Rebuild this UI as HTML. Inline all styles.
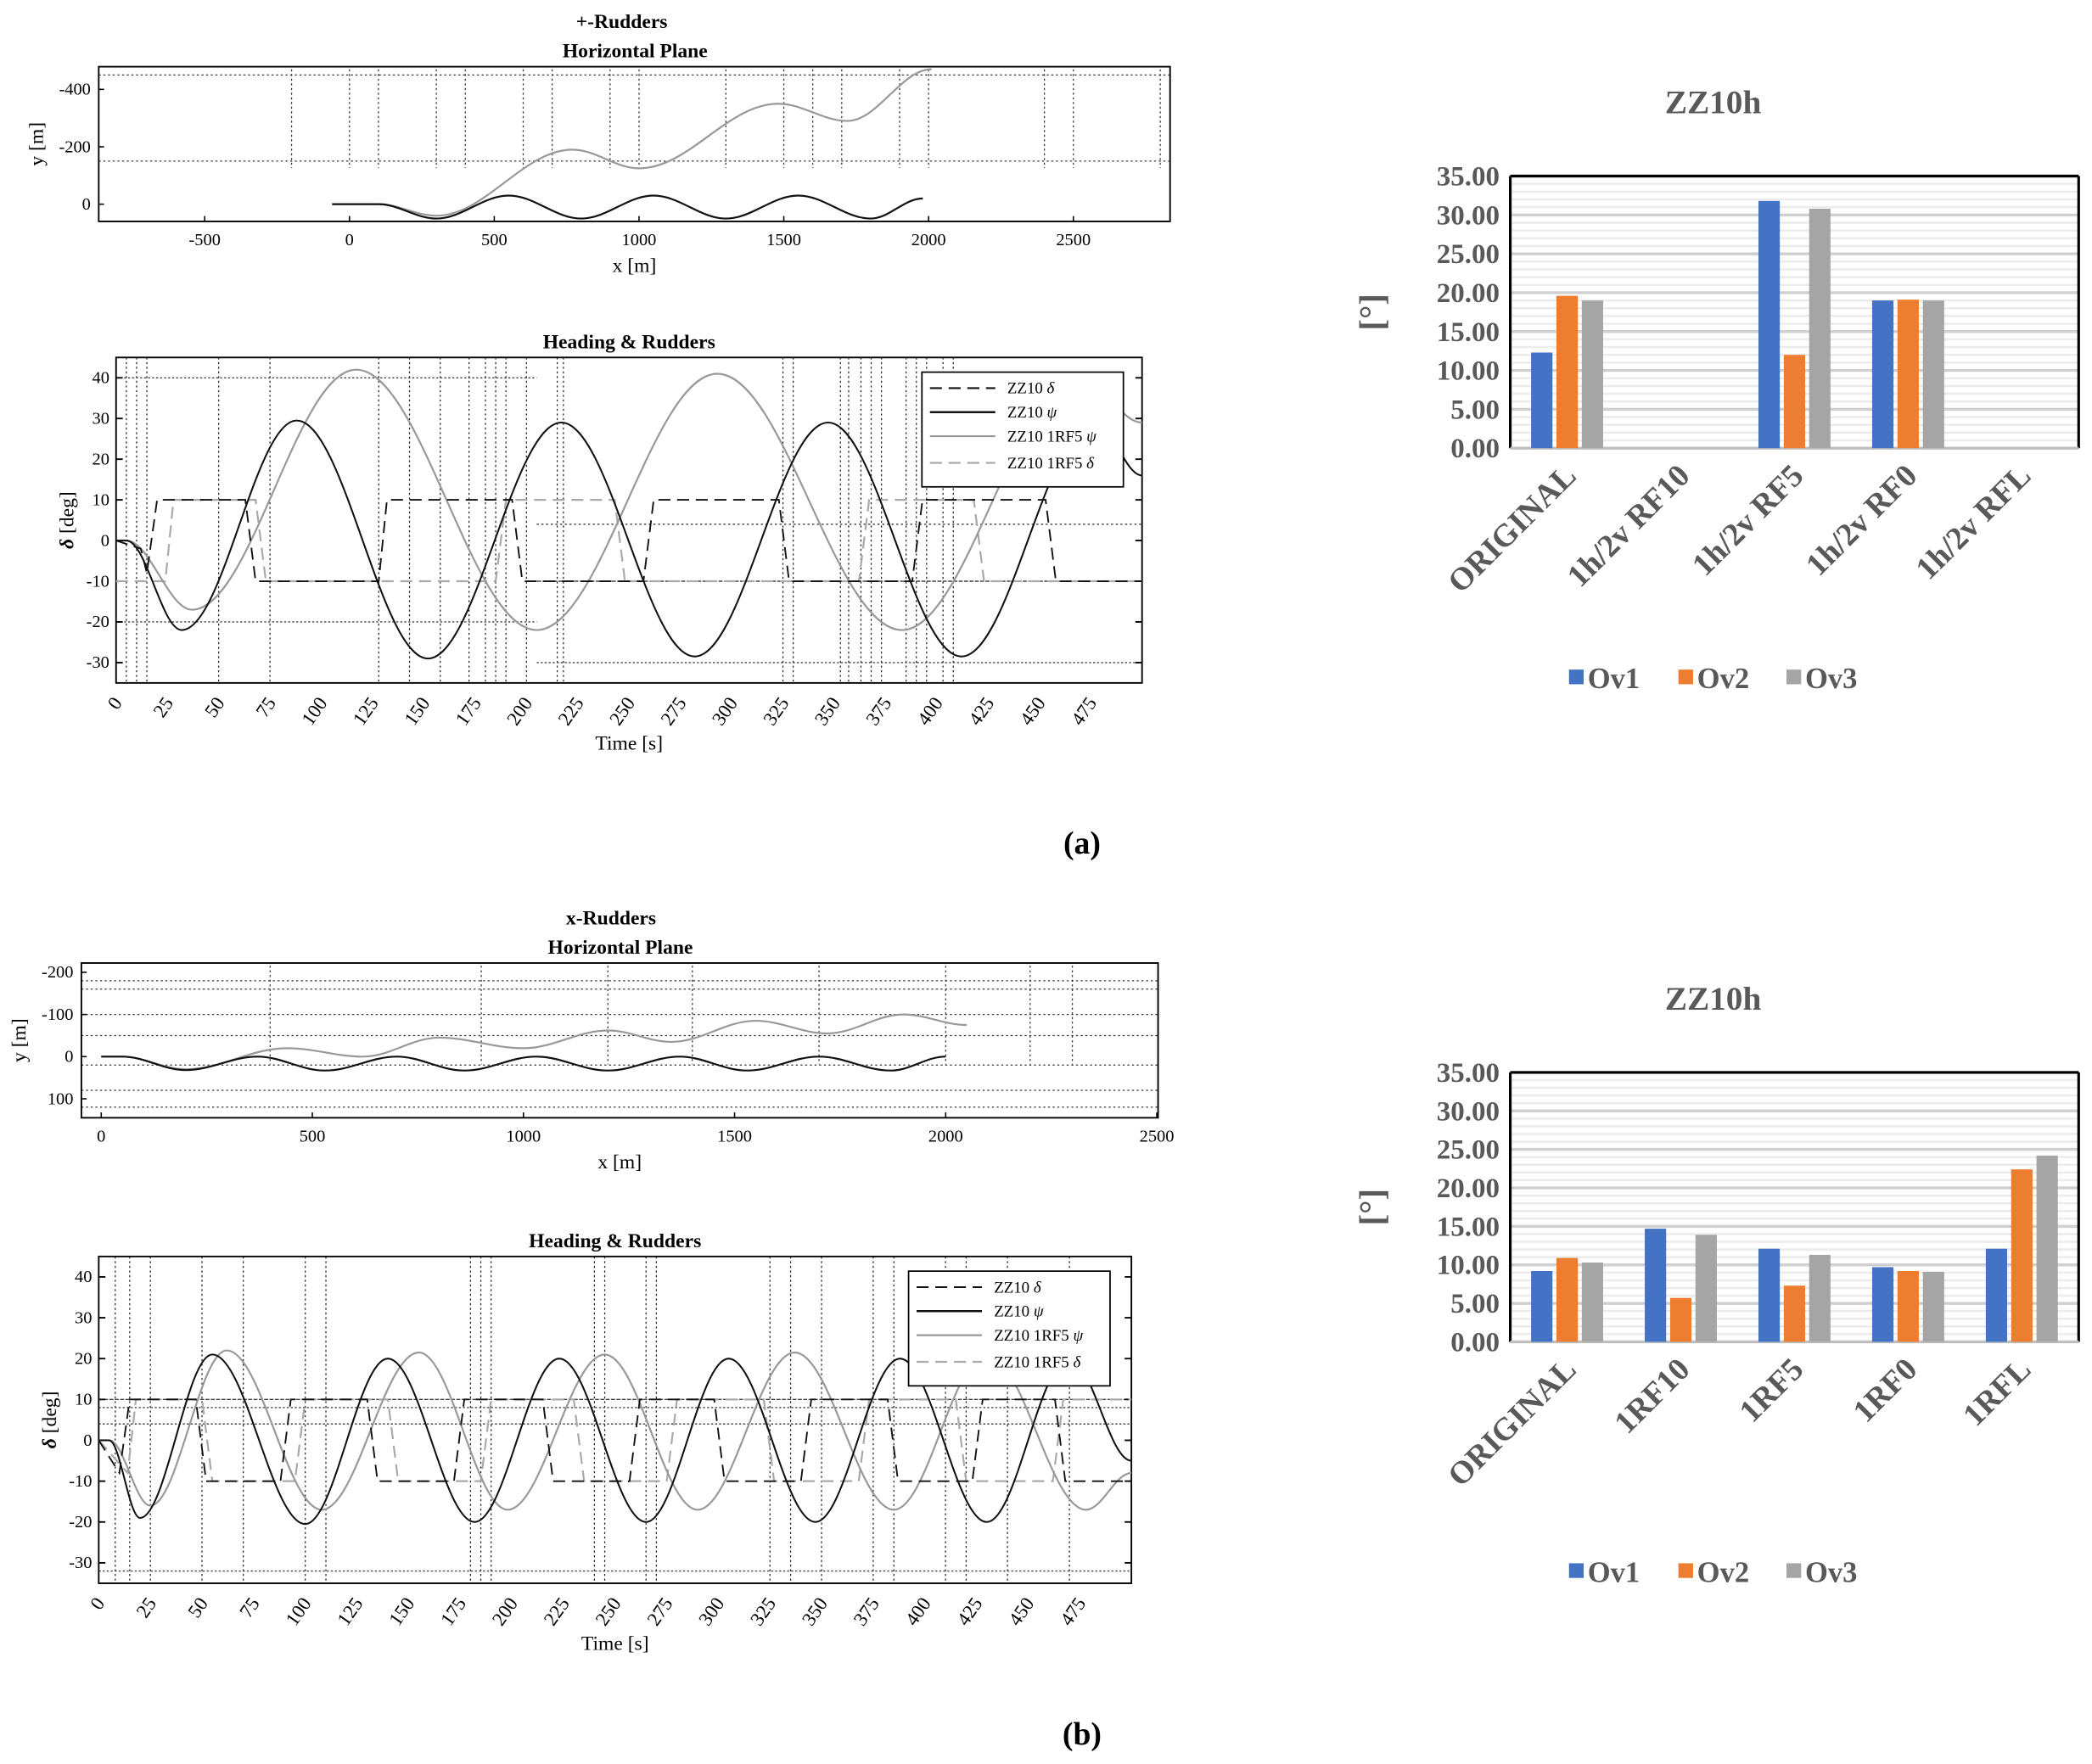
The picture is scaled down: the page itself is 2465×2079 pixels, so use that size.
<!DOCTYPE html>
<html><head><meta charset="utf-8"><style>
html,body{margin:0;padding:0;background:#fff;}
svg{display:block;}
text{font-family:"Liberation Serif",serif;}
</style></head><body>
<svg id="fig" xmlns="http://www.w3.org/2000/svg" width="2465" height="2079" viewBox="0 0 1568 1322.5" preserveAspectRatio="none">
<rect x="0" y="0" width="1568" height="1322.5" fill="#fff"/>
</svg>
<script>
// ---------- DATA ----------
const hpA_zz_x=[-60,100,300,550,800,1050,1300,1550,1800,1980];
const hpA_zz_y=[0,0,50,-30,50,-30,50,-30,50,-20];
const hpA_rf_x=[-60,100,300,770,1000,1480,1720,2010];
const hpA_rf_y=[0,0,40,-190,-125,-350,-290,-470];
const tA_zzpsi_t=[0,5,32,88,152,217,282,347,412,477,500];
const tA_zzpsi_v=[0,0,-22,29.5,-29,29,-28.5,29,-28.5,29,16];
const tA_zzdel_t=[0,12,15,20,63,68,128,132,193,198,257,262,323,328,388,393,453,458,500];
const tA_zzdel_v=[0,-2,-8,10,10,-10,-10,10,10,-10,-10,10,10,-10,-10,10,10,-10,-10];
const tA_rfpsi_t=[0,5,37,117,205,293,383,470,500];
const tA_rfpsi_v=[0,0,-17,42,-22,41,-22,40,29];
const tA_rfdel_t=[0,24,28,68,73,185,190,243,248,362,367,418,423,500];
const tA_rfdel_v=[-10,-10,10,10,-10,-10,10,10,-10,-10,10,10,-10,-10];
const hpB_zz_x=[0,50,200,370,530,700,860,1030,1200,1370,1530,1700,1870,2000];
const hpB_zz_y=[0,0,32,0,33,0,33,0,33,0,33,0,33,0];
const hpB_rf_x=[0,50,200,440,620,800,1000,1200,1350,1550,1720,1900,2050];
const hpB_rf_y=[0,0,30,-20,0,-45,-20,-62,-35,-85,-55,-100,-75];
const tB_zzpsi_t=[0,5,20,55,100,140,182,223,265,305,347,388,430,470,500];
const tB_zzpsi_v=[0,0,-19,21,-20.5,20,-20,20,-20,20,-20,20,-20,20,-5];
const tB_zzdel_t=[0,10,15,47,52,88,93,130,135,172,177,215,220,257,262,298,303,340,345,382,387,423,428,463,468,500];
const tB_zzdel_v=[0,-8,10,10,-10,-10,10,10,-10,-10,10,10,-10,-10,10,10,-10,-10,10,10,-10,-10,10,10,-10,-10];
const tB_rfpsi_t=[0,5,25,62,108,155,198,245,290,337,385,430,478,500];
const tB_rfpsi_v=[0,0,-16,22,-17,21.5,-17,21,-17,21.5,-17,21,-17,-8];
const tB_rfdel_t=[0,14,18,50,55,95,100,140,145,185,190,230,235,275,280,322,327,368,373,415,420,462,467,500];
const tB_rfdel_v=[0,-8,10,10,-10,-10,10,10,-10,-10,10,10,-10,-10,10,10,-10,-10,10,10,-10,-10,10,10];
const barCatsA=["ORIGINAL","1h/2v RF10","1h/2v RF5","1h/2v RF0","1h/2v RFL"];
const barA_ov1=[12.3,null,31.8,19.0,null];
const barA_ov2=[19.6,null,12.0,19.1,null];
const barA_ov3=[19.0,null,30.8,19.0,null];
const barCatsB=["ORIGINAL","1RF10","1RF5","1RF0","1RFL"];
const barB_ov1=[9.2,14.7,12.1,9.7,12.1];
const barB_ov2=[10.9,5.7,7.3,9.2,22.4];
const barB_ov3=[10.3,13.9,11.3,9.1,24.2];
const barTicks=[0,5,10,15,20,25,30,35];
const timeTicks=[0,25,50,75,100,125,150,175,200,225,250,275,300,325,350,375,400,425,450,475];
const degTicks=[-30,-20,-10,0,10,20,30,40];

// ---------- HELPERS ----------
const NS='http://www.w3.org/2000/svg';
const svg=document.getElementById('fig');
function mk(tag,attrs,parent){const e=document.createElementNS(NS,tag);for(const k in attrs)e.setAttribute(k,attrs[k]);(parent||svg).appendChild(e);return e;}
function lin(d0,d1,r0,r1){return v=>r0+(v-d0)/(d1-d0)*(r1-r0);}
function txt(x,y,s,attrs){const t=mk('text',Object.assign({x:x,y:y},attrs||{}));t.textContent=s;return t;}
function smooth(xs,ys,sx,sy){let d='M'+sx(xs[0]).toFixed(2)+','+sy(ys[0]).toFixed(2);
 for(let i=1;i<xs.length;i++){const x0=sx(xs[i-1]),y0=sy(ys[i-1]),x1=sx(xs[i]),y1=sy(ys[i]);const dx=x1-x0;
  d+=' C'+(x0+dx*0.36).toFixed(2)+','+y0.toFixed(2)+' '+(x1-dx*0.36).toFixed(2)+','+y1.toFixed(2)+' '+x1.toFixed(2)+','+y1.toFixed(2);}
 return d;}
function poly(xs,ys,sx,sy){return xs.map((x,i)=>(i?'L':'M')+sx(x).toFixed(2)+','+sy(ys[i]).toFixed(2)).join(' ');}

// ---------- HORIZONTAL PLANE ----------
function hplane(cfg){
 const g=mk('g',{});
 
 
 const sx=lin(cfg.xd[0],cfg.xd[1],cfg.box[0],cfg.box[2]);
 const sy=lin(cfg.yd[0],cfg.yd[1],cfg.box[1],cfg.box[3]);
 cfg.vdots.forEach(v=>{mk('line',{x1:sx(v),x2:sx(v),y1:cfg.box[1]+2,y2:cfg.box[3]-40,stroke:'#333','stroke-width':0.8,'stroke-dasharray':'1.5,2'},g);});
 cfg.hdots.forEach(h=>{mk('line',{x1:cfg.box[0],x2:cfg.box[2],y1:sy(h),y2:sy(h),stroke:'#333','stroke-width':0.8,'stroke-dasharray':'1.5,2'},g);});
 const fr=mk('rect',{x:cfg.box[0],y:cfg.box[1],width:cfg.box[2]-cfg.box[0],height:cfg.box[3]-cfg.box[1],fill:'none',stroke:'#000','stroke-width':1.2},g);
 
 
 cfg.xt.forEach(v=>{mk('line',{x1:sx(v),x2:sx(v),y1:cfg.box[3],y2:cfg.box[3]-4,stroke:'#000'},g);
  const t=txt(sx(v),cfg.box[3]+18,String(v),{'font-size':13,'text-anchor':'middle'});
  
  });
 cfg.yt.forEach(v=>{mk('line',{x1:cfg.box[0],x2:cfg.box[0]+4,y1:sy(v),y2:sy(v),stroke:'#000'},g);
  const t=txt(cfg.box[0]-6,sy(v)+4,String(v),{'font-size':13,'text-anchor':'end'});
  
  });
 const rf=mk('path',{d:smooth(cfg.rfx,cfg.rfy,sx,sy),fill:'none',stroke:'#999','stroke-width':1.4},g);
 
 
 const zz=mk('path',{d:smooth(cfg.zzx,cfg.zzy,sx,sy),fill:'none',stroke:'#111','stroke-width':1.4},g);
 
 
 const xl=txt((cfg.box[0]+cfg.box[2])/2,cfg.box[3]+38,'x [m]',{'font-size':15,'text-anchor':'middle'});
 
 
 const cy=(cfg.box[1]+cfg.box[3])/2, cxl=cfg.box[0]-42;
 const yl=txt(cxl,cy,'y [m]',{'font-size':15,'text-anchor':'middle',transform:'rotate(-90 '+cxl+' '+cy+')'});
 
 
}

// ---------- TIME PLOT ----------
function tplot(cfg){
 const g=mk('g',{});
 
 
 const b=cfg.box;
 const sx=lin(0,500,b[0],b[2]);
 const sy=lin(45,-35,b[1],b[3]);
 cfg.vdots.forEach(v=>{mk('line',{x1:sx(v),x2:sx(v),y1:b[1],y2:b[3],stroke:'#222','stroke-width':0.8,'stroke-dasharray':'1.5,2'},g);});
 cfg.hlines.forEach(h=>{mk('line',{x1:sx(h[1]),x2:sx(h[2]),y1:sy(h[0]),y2:sy(h[0]),stroke:'#444','stroke-width':0.9,'stroke-dasharray':h[3]||'1.5,1.5'},g);});
 const fr=mk('rect',{x:b[0],y:b[1],width:b[2]-b[0],height:b[3]-b[1],fill:'none',stroke:'#000','stroke-width':1.2},g);
 
 
 degTicks.forEach(v=>{mk('line',{x1:b[0],x2:b[0]+5,y1:sy(v),y2:sy(v),stroke:'#000','stroke-width':1.2},g);
  mk('line',{x1:b[2],x2:b[2]-5,y1:sy(v),y2:sy(v),stroke:'#000','stroke-width':1.2},g);
  const t=txt(b[0]-5,sy(v)+4,String(v),{'font-size':13,'text-anchor':'end'});
  
  });
 timeTicks.forEach(v=>{const x=sx(v),y=b[3]+8;
  const t=txt(x+5,y+7,String(v),{'font-size':14.5,'text-anchor':'end',transform:'rotate(-55 '+(x+5)+' '+(y+7)+')'});
  
  });
 const p1=mk('path',{d:poly(cfg.rfdt,cfg.rfdv,sx,sy),fill:'none',stroke:'#aaa','stroke-width':1.4,'stroke-dasharray':'9,5'},g);
 
 
 const p2=mk('path',{d:smooth(cfg.rfpt,cfg.rfpv,sx,sy),fill:'none',stroke:'#999','stroke-width':1.4},g);
 
 
 const p3=mk('path',{d:poly(cfg.zzdt,cfg.zzdv,sx,sy),fill:'none',stroke:'#111','stroke-width':1.2,'stroke-dasharray':'9,5'},g);
 
 
 const p4=mk('path',{d:smooth(cfg.zzpt,cfg.zzpv,sx,sy),fill:'none',stroke:'#111','stroke-width':1.3},g);
 
 
 const L=cfg.leg;
 const lg=mk('g',{},g);
 
 
 mk('rect',{x:L[0],y:L[1],width:151,height:86,fill:'#fff',stroke:'#000','stroke-width':1.1},lg);
 const ents=[['ZZ10 ','δ','#111','9,5',1.3],['ZZ10 ','ψ','#111','',1.6],['ZZ10 1RF5 ','ψ','#999','',1.4],['ZZ10 1RF5 ','δ','#aaa','9,5',1.4]];
 const ys=[12,30,48,68];
 ents.forEach((e,i)=>{const y=L[1]+ys[i];
  const ln=mk('line',{x1:L[0]+6,x2:L[0]+55,y1:y,y2:y,stroke:e[2],'stroke-width':e[4],'stroke-dasharray':e[3]||'none'},lg);
  
  
  const t=txt(L[0]+64,y+4,e[0],{'font-size':12});
  
  
  const ts=mk('tspan',{'font-style':'italic'},t);ts.textContent=e[1];});
 const tl=txt((b[0]+b[2])/2,b[1]-7,'Heading & Rudders',{'font-size':15,'font-weight':'bold','text-anchor':'middle'});
 
 
 const xl=txt((b[0]+b[2])/2,b[3]+50,'Time [s]',{'font-size':15,'text-anchor':'middle'});
 
 
 const cy=(b[1]+b[3])/2, cx=b[0]-32;
 const yl=txt(cx,cy,'',{'font-size':15,'text-anchor':'middle',transform:'rotate(-90 '+cx+' '+cy+')'});
 
 
 const d1=mk('tspan',{'font-style':'italic','font-weight':'bold'},yl);d1.textContent='δ';
 const d2=mk('tspan',{},yl);d2.textContent=' [deg]';
}

// ---------- BAR CHART ----------
function bars(cfg){
 const g=mk('g',{});
 
 
 const b=cfg.box;
 const sy=lin(0,35,b[3],b[1]);
 const band=(b[2]-b[0])/cfg.cats.length;
 const cx=i=>b[0]+band*(i+0.5);
 for(let v=0;v<=35;v++){mk('line',{x1:b[0],x2:b[2],y1:sy(v),y2:sy(v),stroke:v%5===0?'#d0d0d0':'#ececec','stroke-width':v%5===0?2.2:1.6},g);}
 mk('line',{x1:b[0],x2:b[0],y1:b[1],y2:b[3],stroke:'#000','stroke-width':2},g);
 mk('line',{x1:b[0],x2:b[2],y1:b[1],y2:b[1],stroke:'#000','stroke-width':2},g);
 mk('line',{x1:b[2],x2:b[2],y1:b[1],y2:b[3],stroke:'#000','stroke-width':2},g);
 mk('line',{x1:b[0],x2:b[2],y1:b[3],y2:b[3],stroke:'#bfbfbf','stroke-width':2},g);
 const series=[[cfg.s1,'#4472c4','ov1'],[cfg.s2,'#ed7d31','ov2'],[cfg.s3,'#a5a5a5','ov3']];
 series.forEach((s,k)=>{s[0].forEach((v,i)=>{if(v==null)return;
  const x=cx(i)+(k-1)*19-8;
  const r=mk('rect',{x:x,y:sy(v),width:16,height:sy(0)-sy(v),fill:s[1]},g);
  
  });});
 barTicks.forEach(v=>{const t=txt(b[0]-8,sy(v)+7,v.toFixed(2),{'font-size':21,'font-weight':'bold','fill':'#595959','text-anchor':'end'});
  
  });
 cfg.cats.forEach((c,i)=>{const x=cx(i)+8,y=b[3]+22;
  const t=txt(x,y,c,{'font-size':24,'font-weight':'bold','fill':'#595959','text-anchor':'end',transform:'rotate(-45 '+x+' '+y+')'});
  
  });
 const tt=txt(1284,b[1]-47,'ZZ10h',{'font-size':25,'font-weight':'bold','fill':'#595959','text-anchor':'middle'});
 
 
 const ycx=1037, ycy=(b[1]+b[3])/2;
 const yl=txt(ycx,ycy,'[°]',{'font-size':26,'font-weight':'bold','fill':'#595959','text-anchor':'middle',transform:'rotate(-90 '+ycx+' '+ycy+')'});
 
 
 const names=['Ov1','Ov2','Ov3'], cols=['#4472c4','#ed7d31','#a5a5a5'], lx=[1176,1258,1339];
 names.forEach((n,i)=>{const r=mk('rect',{x:lx[i],y:cfg.legY-6,width:11,height:11,fill:cols[i]},g);
  
  
  const t=txt(lx[i]+14,cfg.legY+8,n,{'font-size':22,'font-weight':'bold','fill':'#595959'});
  
  });
}

// ---------- BUILD ----------
let t;
t=txt(466,21,'+-Rudders',{'font-size':15,'font-weight':'bold','text-anchor':'middle'});


t=txt(476,43,'Horizontal Plane',{'font-size':15,'font-weight':'bold','text-anchor':'middle'});


hplane({name:'horizontal-plane-a',box:[74,50,877,166],xd:[-866,2834],yd:[-479,60],xt:[-500,0,500,1000,1500,2000,2500],yt:[-400,-200,0],
 zzx:hpA_zz_x,zzy:hpA_zz_y,rfx:hpA_rf_x,rfy:hpA_rf_y,vdots:[-200,0,100,300,400,600,700,900,1000,1300,1500,1600,2000,1700,1900,2400,2500,2800],hdots:[-450,-150]});
tplot({name:'heading-rudders-a',box:[87,268,856,512],zzpt:tA_zzpsi_t,zzpv:tA_zzpsi_v,zzdt:tA_zzdel_t,zzdv:tA_zzdel_v,rfpt:tA_rfpsi_t,rfpv:tA_rfpsi_v,rfdt:tA_rfdel_t,rfdv:tA_rfdel_v,
 vdots:[5,10,15,50,75,128,143,158,172,180,185,190,200,215,218,325,330,353,357,363,368,373,385,390,395,403,408],
 hlines:[[40,0,205],[-20,0,205],[-10,200,500,'3,1'],[-30,205,500],[4,205,500,'1.5,2']],leg:[691,279]});
t=txt(811,640,'(a)',{'font-size':24,'font-weight':'bold','text-anchor':'middle'});


bars({name:'bar-chart-a',box:[1132,132,1558,336],cats:barCatsA,s1:barA_ov1,s2:barA_ov2,s3:barA_ov3,legY:508});

t=txt(458,693,'x-Rudders',{'font-size':15,'font-weight':'bold','text-anchor':'middle'});


t=txt(465,715,'Horizontal Plane',{'font-size':15,'font-weight':'bold','text-anchor':'middle'});


hplane({name:'horizontal-plane-b',box:[61,722,868,838],xd:[-47,2503],yd:[-222,145],xt:[0,500,1000,1500,2000,2500],yt:[-200,-100,0,100],
 zzx:hpB_zz_x,zzy:hpB_zz_y,rfx:hpB_rf_x,rfy:hpB_rf_y,vdots:[400,900,1200,1400,1700,2000,2200,2300],hdots:[-180,-160,-100,-50,20,80,120]});
tplot({name:'heading-rudders-b',box:[74,942,848,1187],zzpt:tB_zzpsi_t,zzpv:tB_zzpsi_v,zzdt:tB_zzdel_t,zzdv:tB_zzdel_v,rfpt:tB_rfpsi_t,rfpv:tB_rfpsi_v,rfdt:tB_rfdel_t,rfdv:tB_rfdel_v,
 vdots:[8,15,25,50,70,100,110,180,185,190,240,245,265,270,325,335,350,375,385,410,420,440,470],
 hlines:[[10,0,500,'3,1'],[8,0,500],[-32,0,500],[4,0,500]],leg:[681,953]});
t=txt(811,1308,'(b)',{'font-size':24,'font-weight':'bold','text-anchor':'middle'});


bars({name:'bar-chart-b',box:[1132,804,1558,1006],cats:barCatsB,s1:barB_ov1,s2:barB_ov2,s3:barB_ov3,legY:1178});
</script>
</body></html>
